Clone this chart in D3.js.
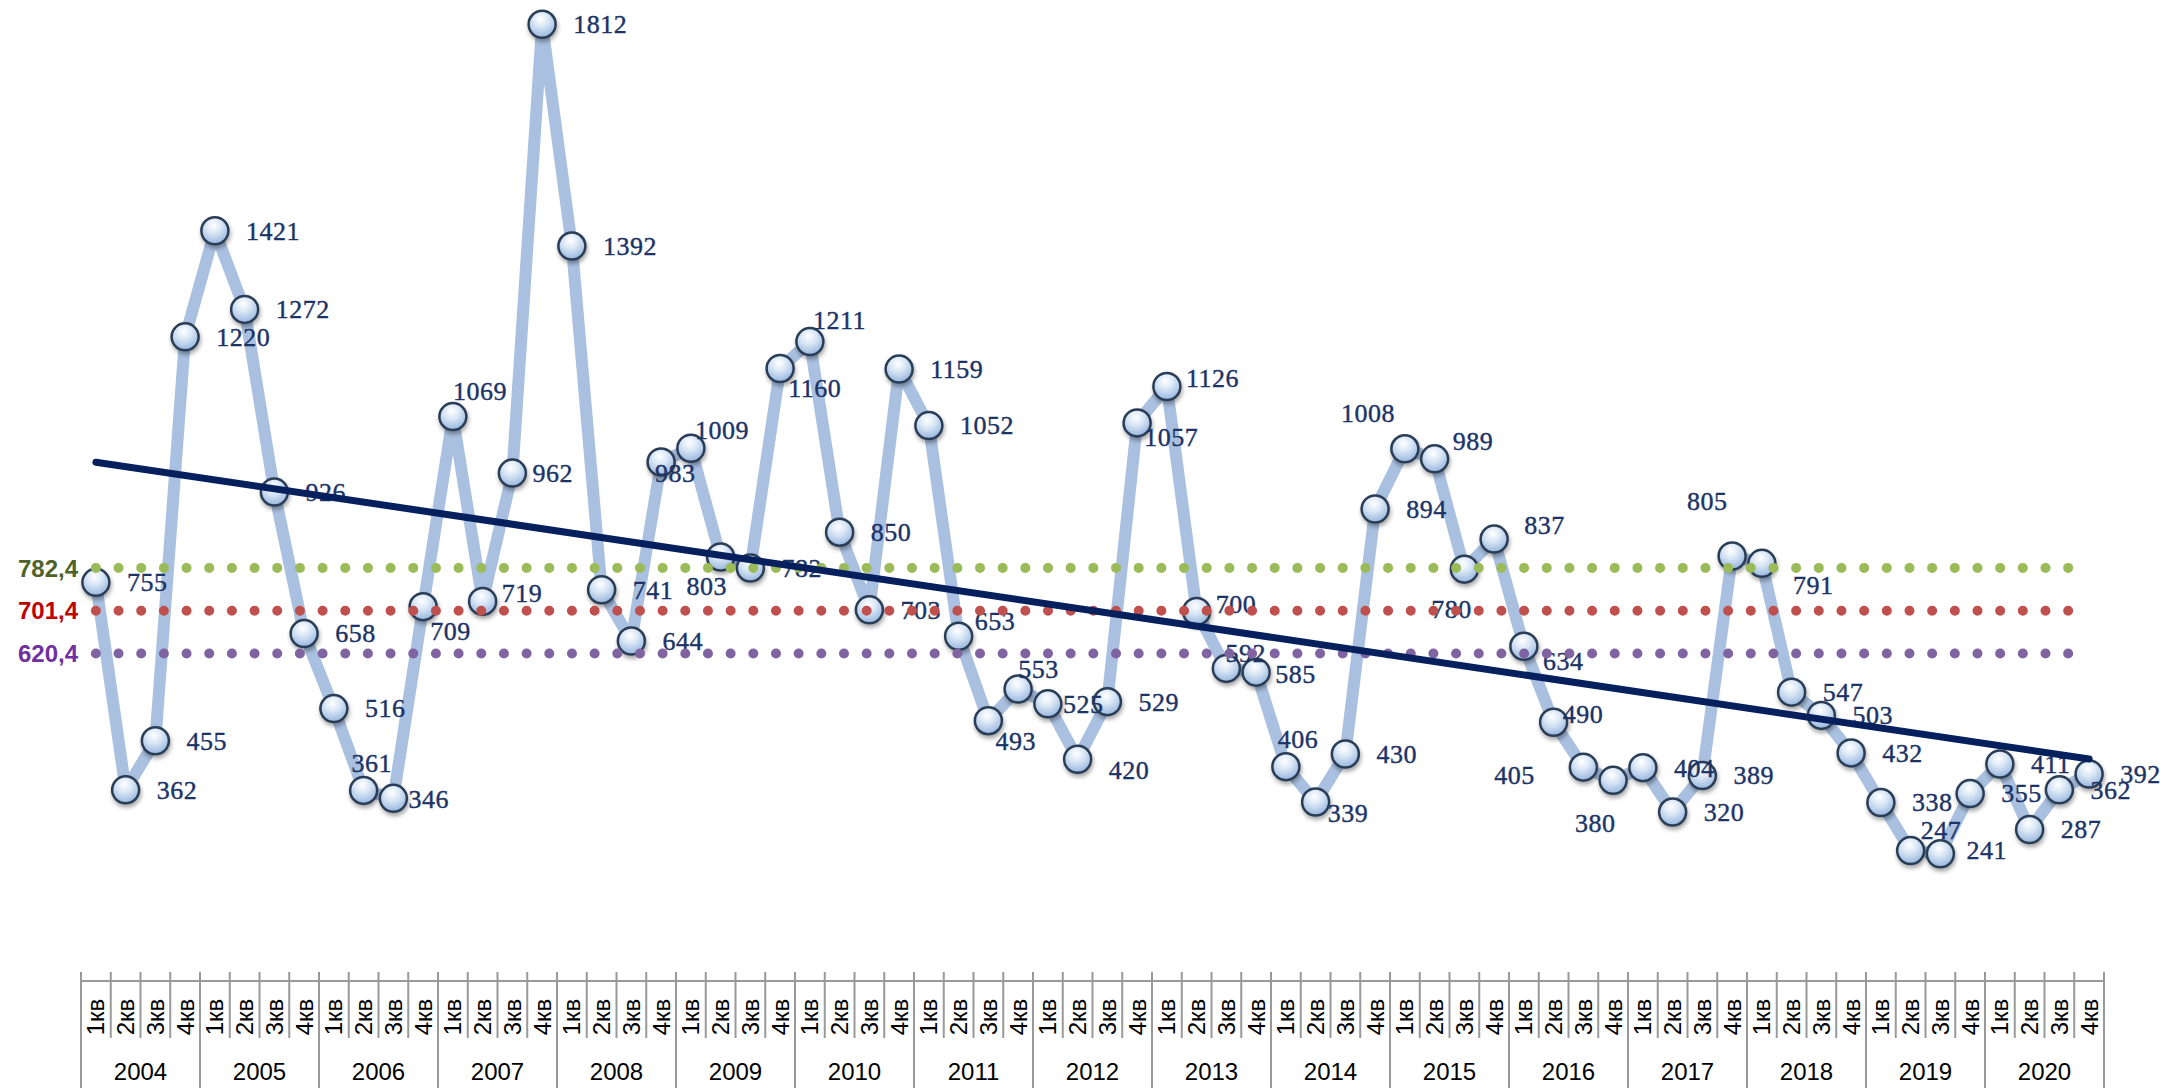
<!DOCTYPE html>
<html>
  <head>
    <meta charset="UTF-8">
    <script src="https://d3js.org/d3.v7.min.js" charset="utf-8"></script>
    <title>квартальная динамика</title>
    <style>
      body { margin: 0; background: #fff; }
    </style>
  </head>
  <body>
    <svg class="chart"></svg>
    <script type="text/javascript">

     var years = ["2004", "2005", "2006", "2007", "2008", "2009", "2010", "2011", "2012",
                  "2013", "2014", "2015", "2016", "2017", "2018", "2019", "2020"];
     var quarters = ["1кв", "2кв", "3кв", "4кв"];

     var values = [
         755, 362, 455, 1220,
         1421, 1272, 926, 658,
         516, 361, 346, 709,
         1069, 719, 962, 1812,
         1392, 741, 644, 983,
         1009, 803, 782, 1160,
         1211, 850, 703, 1159,
         1052, 653, 493, 553,
         525, 420, 529, 1057,
         1126, 700, 592, 585,
         406, 339, 430, 894,
         1008, 989, 780, 837,
         634, 490, 405, 380,
         404, 320, 389, 805,
         791, 547, 503, 432,
         338, 247, 241, 355,
         411, 287, 362, 392
     ];

     var refValues = [782.4, 701.4, 620.4];
     var refLabels = ["782,4", "701,4", "620,4"];
     var refDots = ["#9bbb59", "#c0504d", "#8064a2"];
     var refText = ["#4f6228", "#c00000", "#7030a0"];

     // hand-moved data labels: index -> [dx, dy, anchor]
     var labelMoves = {
         9: [8, -27, "middle"], 10: [15, 1, "start"], 11: [7, 25, "start"],
         12: [0, -25, "start"], 13: [19, -8, "start"], 14: [20, 0, "start"],
         19: [14, 11, "middle"], 20: [4, -18, "start"], 21: [-14, 29, "middle"],
         23: [8, 20, "start"], 24: [3, -21, "start"], 29: [16, -15, "start"],
         30: [7, 20, "start"], 31: [0, -20, "start"], 32: [15, 0, "start"],
         33: [31, 11, "start"], 35: [7, 14, "start"], 36: [19, -8, "start"],
         37: [19, -7, "start"], 38: [-1, -15, "start"], 39: [19, 2, "start"],
         40: [12, -27, "middle"], 41: [12, 11, "start"], 44: [-37, -36, "middle"],
         45: [18, -18, "start"], 46: [-13, 40, "middle"], 47: [30, -14, "start"],
         48: [19, 15, "start"], 49: [9, -8, "start"], 50: [-69, 8, "middle"],
         51: [-18, 43, "middle"], 55: [-25, -55, "middle"], 56: [31, 22, "start"],
         61: [10, -20, "start"], 62: [26, -4, "start"]
     };

     var width = 2167,
         height = 1088,
         left = 81,
         right = 2104,
         axisY = 981,
         yMax = 1858;

     var indices = values.map(function(d, i) { return i; });

     var x = d3.scaleBand()
               .domain(indices)
               .range([left, right]);

     var y = d3.scaleLinear()
               .domain([0, yMax])
               .range([axisY, 0]);

     function cx(i) { return x(i) + x.bandwidth() / 2; }

     var chart = d3.select(".chart")
                   .attr("width", width)
                   .attr("height", height);

     var defs = chart.append("defs");
     var grad = defs.append("radialGradient")
                    .attr("id", "ball")
                    .attr("cx", "45%").attr("cy", "30%").attr("r", "72%");
     grad.append("stop").attr("offset", "0%").attr("stop-color", "#ffffff");
     grad.append("stop").attr("offset", "40%").attr("stop-color", "#dae7f6");
     grad.append("stop").attr("offset", "100%").attr("stop-color", "#93b3dc");

     var shadow = defs.append("filter").attr("id", "shadow")
                      .attr("x", "-50%").attr("y", "-50%")
                      .attr("width", "200%").attr("height", "200%");
     shadow.append("feDropShadow")
           .attr("dx", 1).attr("dy", 3).attr("stdDeviation", 2)
           .attr("flood-color", "#000").attr("flood-opacity", 0.35);

     // category axis
     var axis = chart.append("g").attr("class", "axis");
     var axisColor = "#999999";

     axis.append("line")
         .attr("x1", left).attr("x2", right)
         .attr("y1", axisY).attr("y2", axisY)
         .attr("stroke", axisColor).attr("stroke-width", 2);

     var bounds = indices.concat([values.length]);
     axis.selectAll(".tick")
         .data(bounds)
         .enter().append("line")
         .attr("class", "tick")
         .attr("x1", function(i) { return left + i * x.step(); })
         .attr("x2", function(i) { return left + i * x.step(); })
         .attr("y1", axisY - 9)
         .attr("y2", function(i) { return i % 4 === 0 ? height : axisY + 57; })
         .attr("stroke", axisColor).attr("stroke-width", 2);

     axis.selectAll(".qlabel")
         .data(indices)
         .enter().append("text")
         .attr("class", "qlabel")
         .attr("transform", function(i) { return "translate(" + cx(i) + "," + 1017 + ") rotate(-90)"; })
         .attr("text-anchor", "middle")
         .attr("dy", "0.35em")
         .style("font-family", "Liberation Sans, Arial, sans-serif")
         .style("font-size", "24px")
         .text(function(i) { return quarters[i % 4]; });

     axis.selectAll(".ylabel")
         .data(years)
         .enter().append("text")
         .attr("class", "ylabel")
         .attr("x", function(d, j) { return left + (j * 4 + 2) * x.step(); })
         .attr("y", 1080)
         .attr("text-anchor", "middle")
         .style("font-family", "Liberation Sans, Arial, sans-serif")
         .style("font-size", "24px")
         .text(function(d) { return d; });

     // main series
     var line = d3.line()
                  .x(function(d, i) { return cx(i); })
                  .y(function(d) { return y(d); });

     chart.append("path")
          .datum(values)
          .attr("fill", "none")
          .attr("stroke", "#a9c0e0")
          .attr("stroke-width", 12)
          .attr("stroke-linejoin", "round")
          .attr("d", line);

     chart.append("g")
          .attr("class", "markers")
          .selectAll("circle")
          .data(values)
          .enter().append("circle")
          .attr("cx", function(d, i) { return cx(i); })
          .attr("cy", function(d) { return y(d); })
          .attr("r", 13.5)
          .attr("fill", "url(#ball)")
          .attr("stroke", "#2c3e57")
          .attr("stroke-width", 2.5)
          .attr("filter", "url(#shadow)");

     chart.append("g")
          .attr("class", "labels")
          .selectAll("text")
          .data(values)
          .enter().append("text")
          .attr("x", function(d, i) { return cx(i) + (labelMoves[i] ? labelMoves[i][0] : 31); })
          .attr("y", function(d, i) { return y(d) + (labelMoves[i] ? labelMoves[i][1] : 0); })
          .attr("dy", "0.34em")
          .attr("text-anchor", function(d, i) { return labelMoves[i] ? labelMoves[i][2] : "start"; })
          .style("font-family", "Liberation Serif, Times New Roman, serif")
          .style("font-size", "26px")
          .style("letter-spacing", "0.5px")
          .attr("fill", "#1b3366")
          .attr("stroke", "#1b3366")
          .attr("stroke-width", 0.4)
          .text(function(d) { return d; });

     // mean and band lines
     var refs = chart.append("g").attr("class", "refs");
     refValues.forEach(function(v, k) {
         refs.append("line")
             .attr("x1", cx(0)).attr("x2", cx(values.length - 1))
             .attr("y1", y(v)).attr("y2", y(v))
             .attr("stroke", refDots[k])
             .attr("stroke-width", 10)
             .attr("stroke-linecap", "round")
             .attr("stroke-dasharray", "0 22.67");
         refs.append("text")
             .attr("x", 78)
             .attr("y", y(v))
             .attr("dy", "0.36em")
             .attr("text-anchor", "end")
             .style("font-family", "Liberation Sans, Arial, sans-serif")
             .style("font-size", "24px")
             .style("font-weight", "bold")
             .attr("fill", refText[k])
             .text(refLabels[k]);
     });

     // linear trend
     var n = values.length,
         mx = d3.mean(indices),
         my = d3.mean(values),
         sxy = d3.sum(indices, function(i) { return (i - mx) * (values[i] - my); }),
         sxx = d3.sum(indices, function(i) { return (i - mx) * (i - mx); }),
         slope = sxy / sxx,
         icpt = my - slope * mx;

     chart.append("line")
          .attr("class", "trend")
          .attr("x1", cx(0)).attr("y1", y(icpt))
          .attr("x2", cx(n - 1)).attr("y2", y(icpt + slope * (n - 1)))
          .attr("stroke", "#06205e")
          .attr("stroke-width", 7)
          .attr("stroke-linecap", "round");

    </script>
  </body>
</html>
